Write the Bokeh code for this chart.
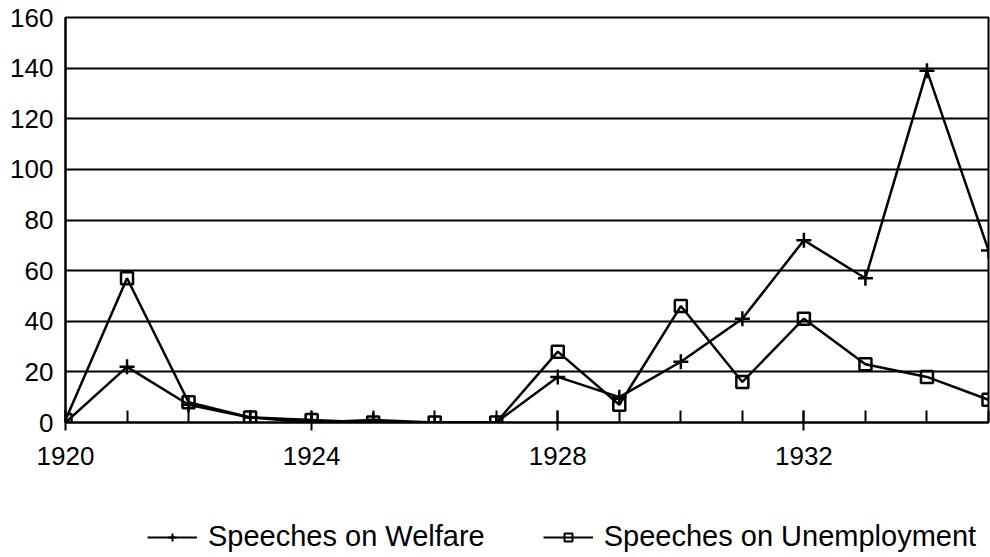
from bokeh.plotting import figure
from bokeh.models import Range1d, FixedTicker, Legend, LegendItem
from bokeh.layouts import column
from bokeh.embed import file_html
from bokeh.resources import INLINE

years = list(range(1920, 1936))
welfare = [0, 22, 7, 2, 0, 1, 0, 0, 18, 10, 24, 41, 72, 57, 139, 68]
unemployment = [1, 57, 8, 2, 1, 0, 0, 0, 28, 7, 46, 16, 41, 23, 18, 9]
x_ticks = [1920, 1924, 1928, 1932]
y_ticks = [0, 20, 40, 60, 80, 100, 120, 140, 160]
series_labels = ["Speeches on Welfare", "Speeches on Unemployment"]

FONT = "Liberation Sans"

p = figure(width=990, height=480, output_backend="svg", toolbar_location=None,
           x_range=Range1d(1920, 1935), y_range=Range1d(0, 160),
           min_border_left=65, min_border_right=2, min_border_top=17,
           min_border_bottom=58)

p.background_fill_color = "white"
p.border_fill_color = "white"
p.outline_line_color = "black"
p.outline_line_width = 2

# grid
p.xgrid.grid_line_color = None
p.ygrid.grid_line_color = "black"
p.ygrid.grid_line_width = 2
p.ygrid.ticker = FixedTicker(ticks=y_ticks)

# x axis
p.xaxis.ticker = FixedTicker(ticks=x_ticks, minor_ticks=years)
p.xaxis.axis_line_width = 2
p.xaxis.axis_line_color = "black"
p.xaxis.major_tick_in = 12
p.xaxis.major_tick_out = 8
p.xaxis.major_tick_line_width = 2
p.xaxis.minor_tick_in = 12
p.xaxis.minor_tick_out = 0
p.xaxis.minor_tick_line_width = 2
p.xaxis.minor_tick_line_color = "black"
p.xaxis.major_label_text_font = FONT
p.xaxis.major_label_text_font_size = "26px"
p.xaxis.major_label_text_color = "black"
p.xaxis.major_label_standoff = 16

# y axis
p.yaxis.ticker = FixedTicker(ticks=y_ticks)
p.yaxis.axis_line_width = 2
p.yaxis.axis_line_color = "black"
p.yaxis.major_tick_in = 0
p.yaxis.major_tick_out = 0
p.yaxis.minor_tick_line_color = None
p.yaxis.major_label_text_font = FONT
p.yaxis.major_label_text_font_size = "26px"
p.yaxis.major_label_text_color = "black"
p.yaxis.major_label_standoff = 12

# series
p.line(years, welfare, line_color="black", line_width=2.5)
p.scatter(years, welfare, marker="cross", size=15, line_color="black", line_width=2.5)
p.line(years, unemployment, line_color="black", line_width=2.5)
p.scatter(years, unemployment, marker="square", size=12, line_color="black",
          line_width=2.5, fill_alpha=0)

# legend strip below the chart (series drawn off-range, only their legend shows)
q = figure(width=990, height=77, output_backend="svg", toolbar_location=None,
           x_range=Range1d(0, 1), y_range=Range1d(0, 1),
           x_axis_location=None, y_axis_location=None,
           min_border_left=0, min_border_right=0, min_border_top=0, min_border_bottom=0)
q.grid.visible = False
q.outline_line_color = None
q.background_fill_color = "white"
q.border_fill_color = "white"

lw_l = q.line(years, welfare, line_color="black", line_width=2)
lw_s = q.scatter(years, welfare, marker="cross", size=15, line_color="black", line_width=2)
lu_l = q.line(years, unemployment, line_color="black", line_width=2)
lu_s = q.scatter(years, unemployment, marker="square", size=12, line_color="black",
                 line_width=2, fill_alpha=0)

legend = Legend(items=[
    LegendItem(label=series_labels[0], renderers=[lw_l, lw_s]),
    LegendItem(label=series_labels[1], renderers=[lu_l, lu_s]),
], orientation="horizontal", location=(82, 4))
legend.label_text_font = FONT
legend.label_text_font_size = "29px"
legend.label_text_color = "black"
legend.glyph_width = 50
legend.label_standoff = 11
legend.spacing = 58
legend.padding = 0
legend.margin = 0
legend.border_line_color = None
legend.background_fill_alpha = 0
q.add_layout(legend, "center")

layout = column(p, q, spacing=0)
open("out.html", "w").write(file_html(layout, INLINE))
